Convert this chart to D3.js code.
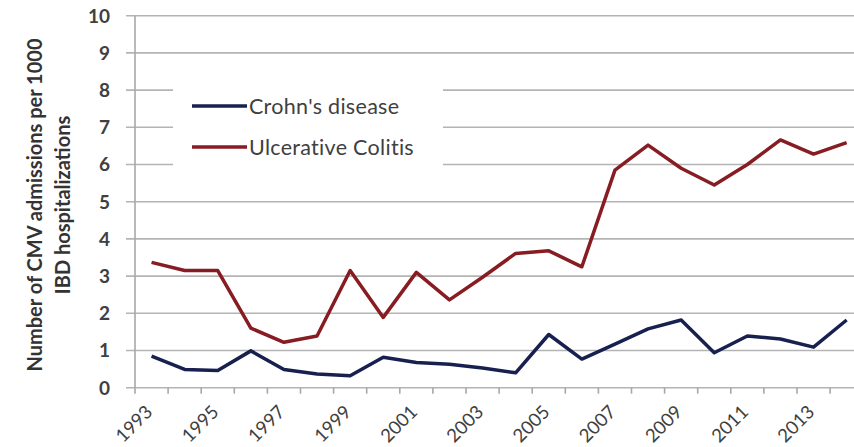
<!DOCTYPE html>
<html>
<head>
<meta charset="utf-8">
<script src="https://cdn.jsdelivr.net/npm/d3@7"></script>
<style>
  body { margin: 0; background: #fff; }
  text { font-family: Lato, "Open Sans", sans-serif; }
</style>
</head>
<body>
<script>
// values
const years = d3.range(1993, 2015).map(String);
const yearLabels = ["1993", "1995", "1997", "1999", "2001", "2003", "2005", "2007", "2009", "2011", "2013"];
const yTicks = [0, 1, 2, 3, 4, 5, 6, 7, 8, 9, 10];
const seriesNames = ["Crohn's disease", "Ulcerative Colitis"];
const seriesColors = ["#17204f", "#871c22"];
const crohns = [0.85, 0.49, 0.46, 0.99, 0.49, 0.37, 0.32, 0.82, 0.68, 0.63, 0.53,
                0.40, 1.43, 0.77, 1.17, 1.58, 1.82, 0.94, 1.39, 1.31, 1.09, 1.82];
const colitis = [3.37, 3.15, 3.15, 1.60, 1.22, 1.39, 3.15, 1.89, 3.10, 2.36, 2.97,
                 3.61, 3.68, 3.25, 5.85, 6.52, 5.90, 5.45, 6.00, 6.66, 6.28, 6.59];

const width = 854, height = 447;
const svg = d3.select("body").append("svg")
  .attr("width", width)
  .attr("height", height);

const plotLeft = 135, plotTop = 15.7, plotBottom = 387.7;
const x = d3.scaleBand()
  .domain(years)
  .range([plotLeft, plotLeft + 22 * 33.1]);
const y = d3.scaleLinear()
  .domain([0, 10])
  .range([plotBottom, plotTop]);

// gridlines
svg.append("g")
  .selectAll("line")
  .data(yTicks)
  .enter().append("line")
  .attr("x1", plotLeft - 9)
  .attr("x2", width)
  .attr("y1", d => y(d))
  .attr("y2", d => y(d))
  .style("stroke", "#b4b4b4")
  .style("stroke-width", 1.6);

// y axis line
svg.append("line")
  .attr("x1", plotLeft).attr("x2", plotLeft)
  .attr("y1", y(10)).attr("y2", plotBottom + 6)
  .style("stroke", "#a8a8a8")
  .style("stroke-width", 1.6);

// x ticks between categories
svg.append("g")
  .selectAll("line")
  .data(years)
  .enter().append("line")
  .attr("x1", d => x(d) + x.bandwidth())
  .attr("x2", d => x(d) + x.bandwidth())
  .attr("y1", plotBottom)
  .attr("y2", plotBottom + 6)
  .style("stroke", "#a8a8a8")
  .style("stroke-width", 1.6);

// y tick labels
svg.append("g")
  .selectAll("text")
  .data(yTicks)
  .enter().append("text")
  .attr("x", 110)
  .attr("y", d => y(d))
  .attr("dy", "0.36em")
  .attr("text-anchor", "end")
  .style("font-size", "19px")
  .style("font-weight", "bold")
  .style("fill", "#404040")
  .text(d => d);

// x tick labels
svg.append("g")
  .selectAll("text")
  .data(yearLabels)
  .enter().append("text")
  .attr("transform", d => `translate(${x(d) + x.bandwidth() / 2 - 7} 404) rotate(-45)`)
  .attr("text-anchor", "end")
  .attr("dy", "0.7em")
  .style("font-size", "18.5px")
  .style("fill", "#404040")
  .text(d => d);

// axis title
var title = svg.append("text")
  .attr("transform", "translate(35 205) rotate(-90)")
  .attr("text-anchor", "middle")
  .style("font-size", "20px")
  .style("font-weight", "bold")
  .style("fill", "#333");
title.append("tspan").attr("x", 0).attr("y", 0).attr("dy", "0.35em")
  .text("Number of CMV admissions  per 1000");
title.append("tspan").attr("x", 0).attr("y", 28).attr("dy", "0.35em")
  .text("IBD hospitalizations");

// lines
var line = d3.line()
  .x((d, i) => x(years[i]) + x.bandwidth() / 2)
  .y(d => y(d));

[crohns, colitis].forEach(function(values, i) {
  svg.append("path")
    .datum(values)
    .attr("d", line)
    .style("fill", "none")
    .style("stroke", seriesColors[i])
    .style("stroke-width", 3.5)
    .style("stroke-linejoin", "round");
});

// legend
var legend = svg.append("g");
legend.append("rect")
  .attr("x", 173).attr("y", 72)
  .attr("width", 270).attr("height", 110)
  .style("fill", "#fff");

var items = legend.selectAll(".item")
  .data(seriesNames)
  .enter().append("g")
  .attr("class", "item")
  .attr("transform", (d, i) => `translate(0 ${106 + i * 41})`);

items.append("line")
  .attr("x1", 192).attr("x2", 247)
  .style("stroke", (d, i) => seriesColors[i])
  .style("stroke-width", 3.5);

items.append("text")
  .attr("x", 249)
  .attr("dy", "0.35em")
  .style("font-size", "21.5px")
  .style("letter-spacing", "0.3px")
  .style("fill", "#404040")
  .text(d => d);
</script>
</body>
</html>
